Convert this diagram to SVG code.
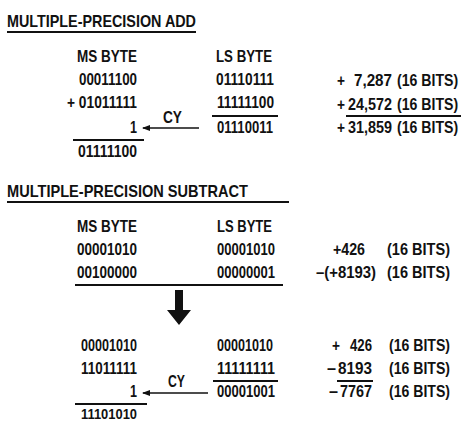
<svg xmlns="http://www.w3.org/2000/svg" width="464" height="423" viewBox="0 0 464 423">
<style>
text{font-family:"Liberation Sans",Arial,sans-serif;font-weight:bold;font-size:17px;fill:#111}
.rule{stroke:#111;stroke-width:2;fill:none}
.cy{stroke:#111;stroke-width:1.6;fill:none}
</style>
<defs>
<marker id="ah" markerWidth="8" markerHeight="6" refX="7" refY="3" orient="auto" markerUnits="userSpaceOnUse">
<path d="M0,0 L8,3 L0,6 Z" fill="#111"/>
</marker>
</defs>
<rect width="464" height="423" fill="#fff"/>

<g id="add">
<text x="7" y="27" textLength="189" lengthAdjust="spacingAndGlyphs">MULTIPLE-PRECISION ADD</text>
<line class="rule" x1="7" y1="32" x2="196" y2="32"/>
<text x="77" y="62" textLength="60" lengthAdjust="spacingAndGlyphs">MS BYTE</text>
<text x="216" y="62" textLength="56" lengthAdjust="spacingAndGlyphs">LS BYTE</text>
<text x="79" y="85" textLength="58" lengthAdjust="spacingAndGlyphs">00011100</text>
<text x="216" y="85" textLength="58" lengthAdjust="spacingAndGlyphs">01110111</text>
<text x="67" y="108" textLength="70" lengthAdjust="spacingAndGlyphs">+ 01011111</text>
<text x="217" y="108" textLength="57" lengthAdjust="spacingAndGlyphs">11111100</text>
<line class="rule" x1="212" y1="116" x2="278" y2="116"/>
<text x="130" y="133" textLength="7" lengthAdjust="spacingAndGlyphs">1</text>
<text x="163" y="123" textLength="19" lengthAdjust="spacingAndGlyphs">CY</text>
<text x="217" y="133" textLength="56" lengthAdjust="spacingAndGlyphs">01110011</text>
<line class="rule" x1="73" y1="140" x2="144" y2="140"/>
<text x="78" y="157" textLength="59" lengthAdjust="spacingAndGlyphs">01111100</text>
<text x="337" y="86" textLength="8" lengthAdjust="spacingAndGlyphs">+</text>
<text x="354" y="86" textLength="38" lengthAdjust="spacingAndGlyphs">7,287</text>
<text transform="translate(397,86) scale(0.83,1)">(16 BITS)</text>
<text x="337" y="110" textLength="8" lengthAdjust="spacingAndGlyphs">+</text>
<text x="348" y="110" textLength="44" lengthAdjust="spacingAndGlyphs">24,572</text>
<text transform="translate(397,110) scale(0.83,1)">(16 BITS)</text>
<line class="rule" x1="346" y1="116" x2="461" y2="116"/>
<text x="337" y="133" textLength="8" lengthAdjust="spacingAndGlyphs">+</text>
<text x="348" y="133" textLength="44" lengthAdjust="spacingAndGlyphs">31,859</text>
<text transform="translate(397,133) scale(0.83,1)">(16 BITS)</text>
</g>

<g id="subtract">
<text x="7" y="197" textLength="241" lengthAdjust="spacingAndGlyphs">MULTIPLE-PRECISION SUBTRACT</text>
<line class="rule" x1="7" y1="202" x2="289" y2="202"/>
<text x="77" y="232" textLength="60" lengthAdjust="spacingAndGlyphs">MS BYTE</text>
<text x="217" y="232" textLength="55" lengthAdjust="spacingAndGlyphs">LS BYTE</text>
<text x="77" y="255" textLength="60" lengthAdjust="spacingAndGlyphs">00001010</text>
<text x="217" y="255" textLength="58" lengthAdjust="spacingAndGlyphs">00001010</text>
<text x="77" y="278" textLength="60" lengthAdjust="spacingAndGlyphs">00100000</text>
<text x="217" y="278" textLength="58" lengthAdjust="spacingAndGlyphs">00000001</text>
<text x="333" y="255" textLength="32" lengthAdjust="spacingAndGlyphs">+426</text>
<text x="387" y="255" textLength="63" lengthAdjust="spacingAndGlyphs">(16 BITS)</text>
<text x="316" y="278" textLength="60" lengthAdjust="spacingAndGlyphs">–(+8193)</text>
<text x="387" y="278" textLength="63" lengthAdjust="spacingAndGlyphs">(16 BITS)</text>
<line class="rule" x1="75" y1="285" x2="283" y2="285"/>
</g>

<g id="big-arrow">
<path d="M175,290 H183 V310 H191 L179,325 L167,310 H175 Z" fill="#111"/>
</g>

<g id="result">
<text x="81" y="351" textLength="56" lengthAdjust="spacingAndGlyphs">00001010</text>
<text x="217" y="351" textLength="56" lengthAdjust="spacingAndGlyphs">00001010</text>
<text x="81" y="374" textLength="56" lengthAdjust="spacingAndGlyphs">11011111</text>
<text x="217" y="374" textLength="58" lengthAdjust="spacingAndGlyphs">11111111</text>
<line class="rule" x1="213" y1="381" x2="278" y2="381"/>
<text x="130" y="397" textLength="7" lengthAdjust="spacingAndGlyphs">1</text>
<text x="168" y="387" textLength="17" lengthAdjust="spacingAndGlyphs">CY</text>
<text x="217" y="397" textLength="58" lengthAdjust="spacingAndGlyphs">00001001</text>
<line class="rule" x1="75" y1="404" x2="147" y2="404"/>
<text x="81" y="419" style="font-size:15.5px" textLength="56" lengthAdjust="spacingAndGlyphs">11101010</text>
<text x="332" y="351" textLength="8" lengthAdjust="spacingAndGlyphs">+</text>
<text x="350" y="351" textLength="22" lengthAdjust="spacingAndGlyphs">426</text>
<text x="389" y="351" textLength="61" lengthAdjust="spacingAndGlyphs">(16 BITS)</text>
<text x="327" y="374" textLength="9" lengthAdjust="spacingAndGlyphs">–</text>
<text x="338" y="374" textLength="34" lengthAdjust="spacingAndGlyphs">8193</text>
<line class="rule" x1="337" y1="381" x2="373" y2="381"/>
<text x="389" y="374" textLength="61" lengthAdjust="spacingAndGlyphs">(16 BITS)</text>
<text x="329" y="397" textLength="9" lengthAdjust="spacingAndGlyphs">–</text>
<text x="340" y="397" textLength="32" lengthAdjust="spacingAndGlyphs">7767</text>
<text x="389" y="397" textLength="61" lengthAdjust="spacingAndGlyphs">(16 BITS)</text>
</g>

<g id="connectors">
<line class="cy" x1="199" y1="128" x2="143" y2="128" marker-end="url(#ah)"/>
<line class="cy" x1="208" y1="393" x2="143" y2="393" marker-end="url(#ah)"/>
</g>
</svg>
